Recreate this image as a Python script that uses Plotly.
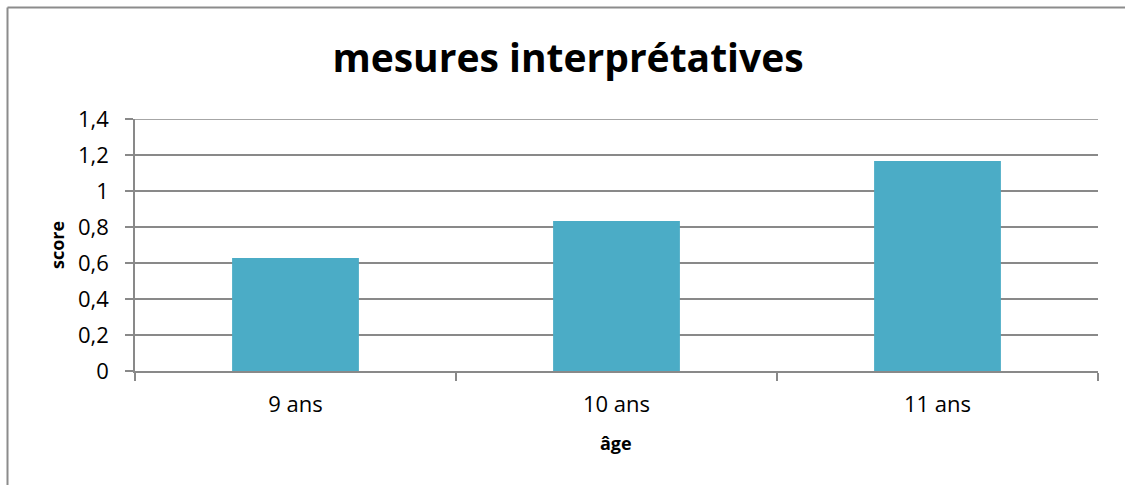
import plotly.graph_objects as go

categories = ["9 ans", "10 ans", "11 ans"]
scores = [0.628, 0.833, 1.167]
y_ticks = [0, 0.2, 0.4, 0.6, 0.8, 1.0, 1.2, 1.4]
y_tick_labels = ["0", "0,2", "0,4", "0,6", "0,8", "1", "1,2", "1,4"]

W, H = 1125, 485
L, R, T, B = 135, 27, 119, 114
pw, ph = W - L - R, H - T - B

def px_x(x):
    return (x - L) / pw

def px_y(y):
    return (H - B - y) / ph

FONT = "Open Sans"
GRAY = "#898989"
FRAME = "#8c8c8c"

fig = go.Figure(go.Bar(
    x=categories, y=scores, marker=dict(color="#4BACC6", line=dict(width=0)),
    width=0.395,
))

fig.update_layout(
    width=W, height=H,
    margin=dict(l=L, r=R, t=T, b=B),
    paper_bgcolor="white", plot_bgcolor="white",
    showlegend=False,
    font=dict(family=FONT, color="black"),
    title=dict(text="<b>mesures interprétatives</b>", x=568 / W, xref="container", xanchor="center",
               y=1 - 58 / H, yanchor="middle", font=dict(size=39, family=FONT, color="black")),
)

fig.update_xaxes(
    type="category", tickson="boundaries", ticks="outside", ticklen=8, tickwidth=1.5,
    tickcolor=GRAY, showline=True, linecolor=GRAY, linewidth=1.5, showgrid=False,
    tickfont=dict(size=22, family=FONT, color="black"), ticklabelstandoff=13,
)
fig.update_yaxes(
    range=[0, 1.4], tickvals=y_ticks, ticktext=y_tick_labels, ticks="outside", ticklen=8,
    tickwidth=1.5, tickcolor=GRAY, showline=True, linecolor=GRAY, linewidth=1.5,
    showgrid=True, gridcolor=GRAY, gridwidth=1.5, zeroline=False,
    tickfont=dict(size=22, family=FONT, color="black"), ticklabelstandoff=12,
)

# top gridline at the range end (Plotly omits it at the edge)
fig.add_shape(type="line", xref="paper", yref="y", x0=0, x1=1, y0=y_ticks[-1], y1=y_ticks[-1],
              line=dict(color=GRAY, width=1.5), layer="below")

fig.add_annotation(text="<b>score</b>", textangle=-90, xref="paper", yref="paper",
                   x=px_x(57), y=px_y(245), showarrow=False, xanchor="center", yanchor="middle",
                   font=dict(size=18, family=FONT, color="black"))
fig.add_annotation(text="<b>âge</b>", xref="paper", yref="paper",
                   x=px_x(616), y=px_y(443), showarrow=False, xanchor="center", yanchor="middle",
                   font=dict(size=18, family=FONT, color="black"))

# chart frame: left and top edges (right/bottom fall outside the picture)
fig.add_shape(type="line", xref="paper", yref="paper",
              x0=px_x(7.5), x1=px_x(7.5), y0=px_y(H), y1=px_y(7.5),
              line=dict(color=FRAME, width=2), layer="below")
fig.add_shape(type="line", xref="paper", yref="paper",
              x0=px_x(7.5), x1=px_x(W), y0=px_y(7.5), y1=px_y(7.5),
              line=dict(color=FRAME, width=2), layer="below")

fig.write_html("out.html", config={"displayModeBar": False},
               post_script="document.body.style.margin='0';document.body.style.overflow='hidden';")
